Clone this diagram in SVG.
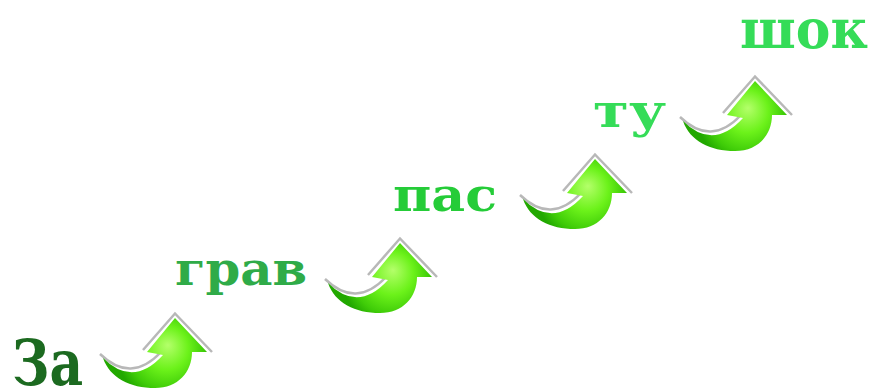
<svg xmlns="http://www.w3.org/2000/svg" xmlns:xlink="http://www.w3.org/1999/xlink" width="871" height="390" viewBox="0 0 871 390">
<style>
.syl{font-family:"DejaVu Serif","Liberation Serif",serif;font-weight:bold;}
.shadow{fill:none;stroke:#b8b8b8;stroke-width:2.5;stroke-linejoin:miter;}
.body{fill:url(#grn);}
</style>
<defs>
<radialGradient id="grn" gradientUnits="userSpaceOnUse" cx="165" cy="352" r="48" fx="168" fy="345">
<stop offset="0" stop-color="#b4ff6a"/>
<stop offset="0.45" stop-color="#6cf21a"/>
<stop offset="0.8" stop-color="#3fcc08"/>
<stop offset="1" stop-color="#22a800"/>
</radialGradient>
<g id="arrow">
<path class="shadow" d="M100,354 Q131,384 161,352 M143,350 L175,313.5 L212,352"/>
<path class="body" d="M103,358 Q133,388 163,355 L147,352 L175,318 L207,352 L192,352 C192,372 178,388 155,388 C130,388 110,378 103,358 Z"/>
</g>
</defs>
<rect width="871" height="390" fill="#ffffff"/>
<g id="connectors">
<use xlink:href="#arrow"/>
<use xlink:href="#arrow" transform="translate(225,-75)"/>
<use xlink:href="#arrow" transform="translate(420,-159)"/>
<use xlink:href="#arrow" transform="translate(580,-237)"/>
</g>
<g id="node-za"><text class="syl" x="12" y="385" font-size="64" fill="#1c6a20" textLength="71" lengthAdjust="spacingAndGlyphs">За</text></g>
<g id="node-grav"><text class="syl" x="175" y="285" font-size="46" fill="#2fab48" textLength="132" lengthAdjust="spacingAndGlyphs">грав</text></g>
<g id="node-pas"><text class="syl" x="393" y="211" font-size="46" fill="#25cc38" textLength="104" lengthAdjust="spacingAndGlyphs">пас</text></g>
<g id="node-tu"><text class="syl" x="593" y="127" font-size="46" fill="#35dc58" textLength="73" lengthAdjust="spacingAndGlyphs">ту</text></g>
<g id="node-shok"><text class="syl" x="740" y="48" font-size="55" fill="#35dc58" textLength="128" lengthAdjust="spacingAndGlyphs">шок</text></g>
</svg>
